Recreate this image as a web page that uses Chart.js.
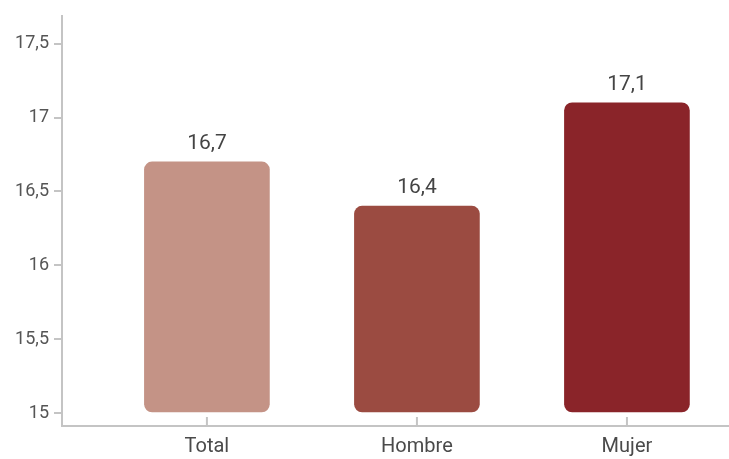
<!DOCTYPE html>
<html>
<head>
<meta charset="utf-8">
<script src="https://cdn.jsdelivr.net/npm/chart.js@4.4.1/dist/chart.umd.min.js"></script>
<style>
  html, body { margin: 0; padding: 0; background: #fff; }
  #wrap { width: 729px; height: 459px; }
</style>
</head>
<body>
<div id="wrap"><canvas id="myChart"></canvas></div>
<script>
const categorias = ['Total', 'Hombre', 'Mujer']
const valores = [16.7, 16.4, 17.1]
const colores = ['#c49386', '#9b4b41', '#8a2429']
const yTicks = [15, 15.5, 16, 16.5, 17, 17.5]

const coma = v => String(v).replace('.', ',')

// marcas del eje x hacia dentro del grafico
const marcasX = {
    id: 'marcasX',
    afterDraw(chart) {
        const x = chart.scales.x
        const ctx = chart.ctx
        ctx.save()
        ctx.strokeStyle = '#c4c4c4'
        ctx.lineWidth = 2
        categorias.forEach((c, i) => {
            const px = x.getPixelForValue(i)
            ctx.beginPath()
            ctx.moveTo(px, x.top)
            ctx.lineTo(px, x.top - 9)
            ctx.stroke()
        })
        ctx.restore()
    }
}

// valor encima de cada barra
const etiquetas = {
    id: 'etiquetas',
    afterDatasetsDraw(chart) {
        const ctx = chart.ctx
        const meta = chart.getDatasetMeta(0)
        ctx.save()
        ctx.fillStyle = '#444'
        ctx.font = '21px Roboto'
        ctx.textAlign = 'center'
        ctx.textBaseline = 'alphabetic'
        meta.data.forEach((bar, i) => {
            ctx.fillText(coma(valores[i]), bar.x, bar.y - 13)
        })
        ctx.restore()
    }
}

const ctx1 = document.getElementById('myChart')

const myChart = new Chart(ctx1, {
    type: 'bar',
    data: {
        datasets: [{
            data: valores.map((v, i) => ({ x: i, y: v })),
            backgroundColor: colores,
            borderRadius: 8,
            borderSkipped: false,
            barThickness: 125,
            base: 15
        }]
    },
    options: {
        responsive: true,
        maintainAspectRatio: false,
        animation: false,
        layout: { padding: { top: 15, right: 0, left: 0, bottom: 0 } },
        plugins: { legend: { display: false }, tooltip: { enabled: false } },
        scales: {
            x: {
                type: 'linear',
                offset: false,
                min: -0.69,
                max: 2.486,
                afterBuildTicks: s => { s.ticks = categorias.map((c, i) => ({ value: i })) },
                afterFit: s => { s.height = 33 },
                grid: { display: false, offset: false },
                border: { color: '#c4c4c4', width: 2 },
                ticks: {
                    callback: v => categorias[v],
                    color: '#4a4a4a',
                    font: { family: 'Roboto', size: 20 },
                    padding: 1,
                    maxRotation: 0
                }
            },
            y: {
                min: 14.912,
                max: 17.689,
                afterBuildTicks: s => { s.ticks = yTicks.map(v => ({ value: v })) },
                afterFit: s => { s.width = 62 },
                grid: { drawOnChartArea: false, color: '#c4c4c4', lineWidth: 2, tickLength: 8 },
                border: { color: '#c4c4c4', width: 2 },
                ticks: {
                    callback: v => coma(v),
                    color: '#555',
                    font: { family: 'Roboto', size: 18 },
                    padding: 5
                }
            }
        }
    },
    plugins: [marcasX, etiquetas]
})
</script>
</body>
</html>
